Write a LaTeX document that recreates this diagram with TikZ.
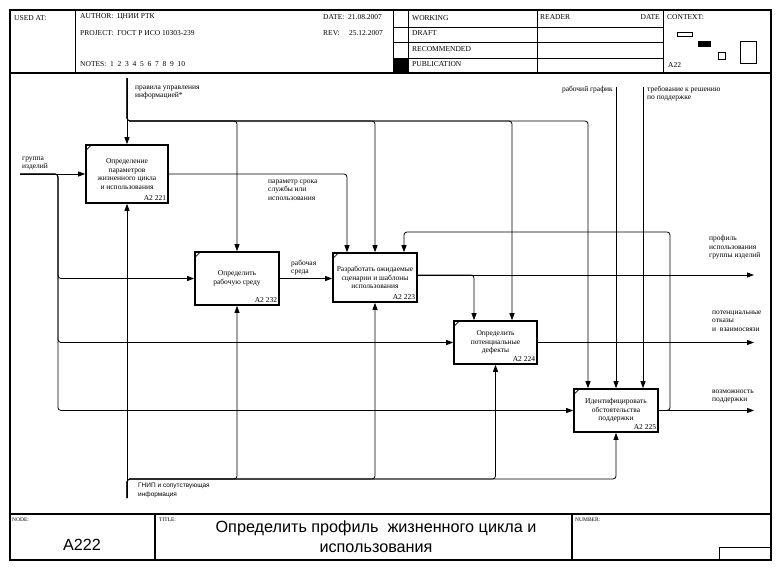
\documentclass[tikz,border=0pt]{standalone}
\usepackage{fontspec}
\setmainfont{Liberation Serif}
\newfontfamily\arialf{Liberation Sans}
\usetikzlibrary{arrows.meta}
\begin{document}
\begin{tikzpicture}[x=1pt,y=-1pt,
  frm/.style={line width=1.2pt},
  hline/.style={line width=0.8pt},
  hdr/.style={font=\fontsize{7.5}{8}\selectfont, anchor=west, inner sep=0},
  ftl/.style={font=\fontsize{5.5}{6}\selectfont, anchor=west, inner sep=0},
  actbox/.style={draw, line width=1.6pt, rectangle, inner sep=0, align=center, font=\fontsize{7.5}{8.4}\selectfont},
  num/.style={font=\fontsize{7.5}{8}\selectfont, anchor=south east, inner sep=0},
  lbl/.style={font=\fontsize{7.5}{8.4}\selectfont, align=left, anchor=north west, inner sep=0},
  arr/.style={line width=0.8pt, rounded corners=3pt, -{Triangle[length=7pt,width=5pt]}},
  tick/.style={line width=0.8pt},
]
\useasboundingbox (0,0) rectangle (782,570);
\fill[white] (0,0) rectangle (782,570);
% ---------- frame ----------
\draw[frm] (10,10) rectangle (771,560);
\draw[frm] (10,73) -- (771,73);
\draw[frm] (10,514) -- (771,514);
% header columns
\draw[hline] (75,10) -- (75,73);
\draw[hline] (393,10) -- (393,73);
\draw[hline] (408,10) -- (408,73);
\draw[hline] (537,10) -- (537,73);
\draw[hline] (663,10) -- (663,73);
\draw[hline] (393,27) -- (663,27);
\draw[hline] (393,42) -- (663,42);
\draw[hline] (393,58) -- (663,58);
\fill (393,58) rectangle (408,73);
% header texts
\node[hdr] (usedat) at (14,18) {USED AT:};
\node[hdr] (author) at (80,17) {AUTHOR:\ \ ЦНИИ РТК};
\node[hdr] (project) at (80,33) {PROJECT:\ \ ГОСТ Р ИСО 10303-239};
\node[hdr] (notes) at (80,64) {NOTES:\ \ 1\ \ 2\ \ 3\ \ 4\ \ 5\ \ 6\ \ 7\ \ 8\ \ 9\ \ 10};
\node[hdr] (date) at (323,17) {DATE:\ \ 21.08.2007};
\node[hdr] (rev) at (323,33) {REV:\ \ \ \ \ 25.12.2007};
\node[hdr] (working) at (412,18) {WORKING};
\node[hdr] (draft) at (412,33.5) {DRAFT};
\node[hdr] (recom) at (412,49) {RECOMMENDED};
\node[hdr] (publ) at (412,64.5) {PUBLICATION};
\node[hdr] (reader) at (540,17) {READER};
\node[hdr, anchor=east] (rdate) at (660,17) {DATE};
\node[hdr] (context) at (667,17) {CONTEXT:};
\node[hdr] (ctxnode) at (668,65) {A22};
% context thumbnails
\draw[line width=0.7pt] (677,32) rectangle (692,36);
\fill (698,41) rectangle (711,47);
\draw[line width=0.7pt] (718,52) rectangle (725,59);
\draw[line width=0.7pt] (740,41) rectangle (756,63);
% footer
\draw[frm] (155,514) -- (155,560);
\draw[frm] (572,514) -- (572,560);
\draw[hline] (719,560) -- (719,547) -- (771,547);
\node[ftl] (nodelbl) at (12,520) {NODE:};
\node[ftl] (titlelbl) at (159,520) {TITLE:};
\node[ftl] (numlbl) at (575,520) {NUMBER:};
\node[font=\arialf\fontsize{16.2}{20}\selectfont, align=center, inner sep=0] (ttl) at (376,537) {Определить профиль\ \ жизненного цикла и\\использования};
\node[font=\arialf\fontsize{16.2}{18}\selectfont, inner sep=0] (nid) at (82,545) {A222};

% ---------- activity boxes ----------
\node[actbox, minimum width=82pt, minimum height=58pt] (b1) at (127,174) {Определение\\параметров\\жизненного цикла\\и использования};
\node[actbox, minimum width=84pt, minimum height=53pt] (b2) at (237,278.5) {Определить\\рабочую среду};
\node[actbox, minimum width=84pt, minimum height=49pt] (b3) at (375,277.5) {Разработать ожидаемые\\сценарии и шаблоны\\использования};
\node[actbox, minimum width=83pt, minimum height=43pt] (b4) at (495.5,342.5) {Определить\\потенциальные\\дефекты};
\node[actbox, minimum width=84pt, minimum height=43pt] (b5) at (616,410.5) {Идентифицировать\\обстоятельства\\поддержки};
\foreach \b/\n in {b1/A2 221, b2/A2 232, b3/A2 223, b4/A2 224, b5/A2 225}{
  \node[num] at ([shift={(-2.5,-3.5)}]\b.south east) {\n};
  \draw[tick] ([shift={(1.5,5.5)}]\b.north west) -- ([shift={(5.5,1.5)}]\b.north west);
}

% ---------- coordinates ----------
\coordinate (cIn) at (127,78);
\coordinate (cJ) at (127,121);
\coordinate (c4) at (512,121);
\coordinate (c5) at (588,121);
\coordinate (rg) at (616,87);
\coordinate (tr) at (643,87);
\coordinate (gi) at (20,174);
\coordinate (gJ) at (58,174);
\coordinate (o1) at (347,174);
\coordinate (o3s) at (417,275);
\coordinate (o3j) at (474,275);
\coordinate (o3e) at (754,275);
\coordinate (f1) at (670,232);
\coordinate (f2) at (404,232);
\coordinate (mIn) at (127,498);
\coordinate (mJ) at (127,479);

% ---------- controls ----------
\draw[arr] (cIn) -- (b1.north);
\draw[arr] (cIn) -- (cJ) -- (cJ -| b2.north) -- (b2.north);
\draw[arr] (cIn) -- (cJ) -- (cJ -| b3.north) -- (b3.north);
\draw[arr] (cIn) -- (cJ) -- (c4) -- (c4 |- b4.north);
\draw[arr] (cIn) -- (cJ) -- (c5) -- (c5 |- b5.north);
\draw[arr] (rg) -- (b5.north);
\draw[arr] (tr) -- (tr |- b5.north);
\draw[arr] (b1.east) -- (o1) -- (o1 |- b3.north);
\draw[arr] (b5.east) -- (b5.east -| f1) -- (f1) -- (f2) -- (f2 |- b3.north);
\draw[arr] (o3s) -- (o3j) -- (o3j |- b4.north);

% ---------- inputs ----------
\draw[arr] (gi) -- (b1.west);
\draw[arr] (gi) -- (gJ) -- (gJ |- b2.west) -- (b2.west);
\draw[arr] (gi) -- (gJ) -- (gJ |- b4.west) -- (b4.west);
\draw[arr] (gi) -- (gJ) -- (gJ |- b5.west) -- (b5.west);
\draw[arr] (b2.east) -- (b2.east -| b3.west);

% ---------- outputs ----------
\draw[arr] (o3s) -- (o3e);
\draw[arr] (b4.east) -- (b4.east -| o3e);
\draw[arr] (b5.east) -- (b5.east -| o3e);

% ---------- mechanisms ----------
\draw[arr] (mIn) -- (b1.south);
\draw[arr] (mIn) -- (mJ) -- (mJ -| b2.south) -- (b2.south);
\draw[arr] (mIn) -- (mJ) -- (mJ -| b3.south) -- (b3.south);
\draw[arr] (mIn) -- (mJ) -- (mJ -| b4.south) -- (b4.south);
\draw[arr] (mIn) -- (mJ) -- (mJ -| b5.south) -- (b5.south);

% ---------- labels ----------
\node[lbl] (lpr) at (135,85.5) {правила управления\\информацией*};
\node[lbl] (lgi) at (22,156.5) {группа\\изделий};
\node[lbl] (lps) at (268,179.5) {параметр срока\\службы или\\использования};
\node[lbl] (lrs) at (291,259.5) {рабочая\\среда};
\node[lbl, anchor=north east] (lrg) at (613,85.5) {рабочий график};
\node[lbl] (ltr) at (647,85.5) {требование к решению\\по поддержке};
\node[lbl] (lpi) at (709,235.5) {профиль\\использования\\группы изделий};
\node[lbl] (lpo) at (712,310.5) {потенциальные\\отказы\\и\ \ взаимосвязи};
\node[lbl] (lvp) at (712,389.5) {возможность\\поддержки};
\node[lbl, font=\arialf\fontsize{6.5}{9}\selectfont] (lgn) at (138,482.5) {ГНИП и сопутствующая\\информация};
\end{tikzpicture}
\end{document}
